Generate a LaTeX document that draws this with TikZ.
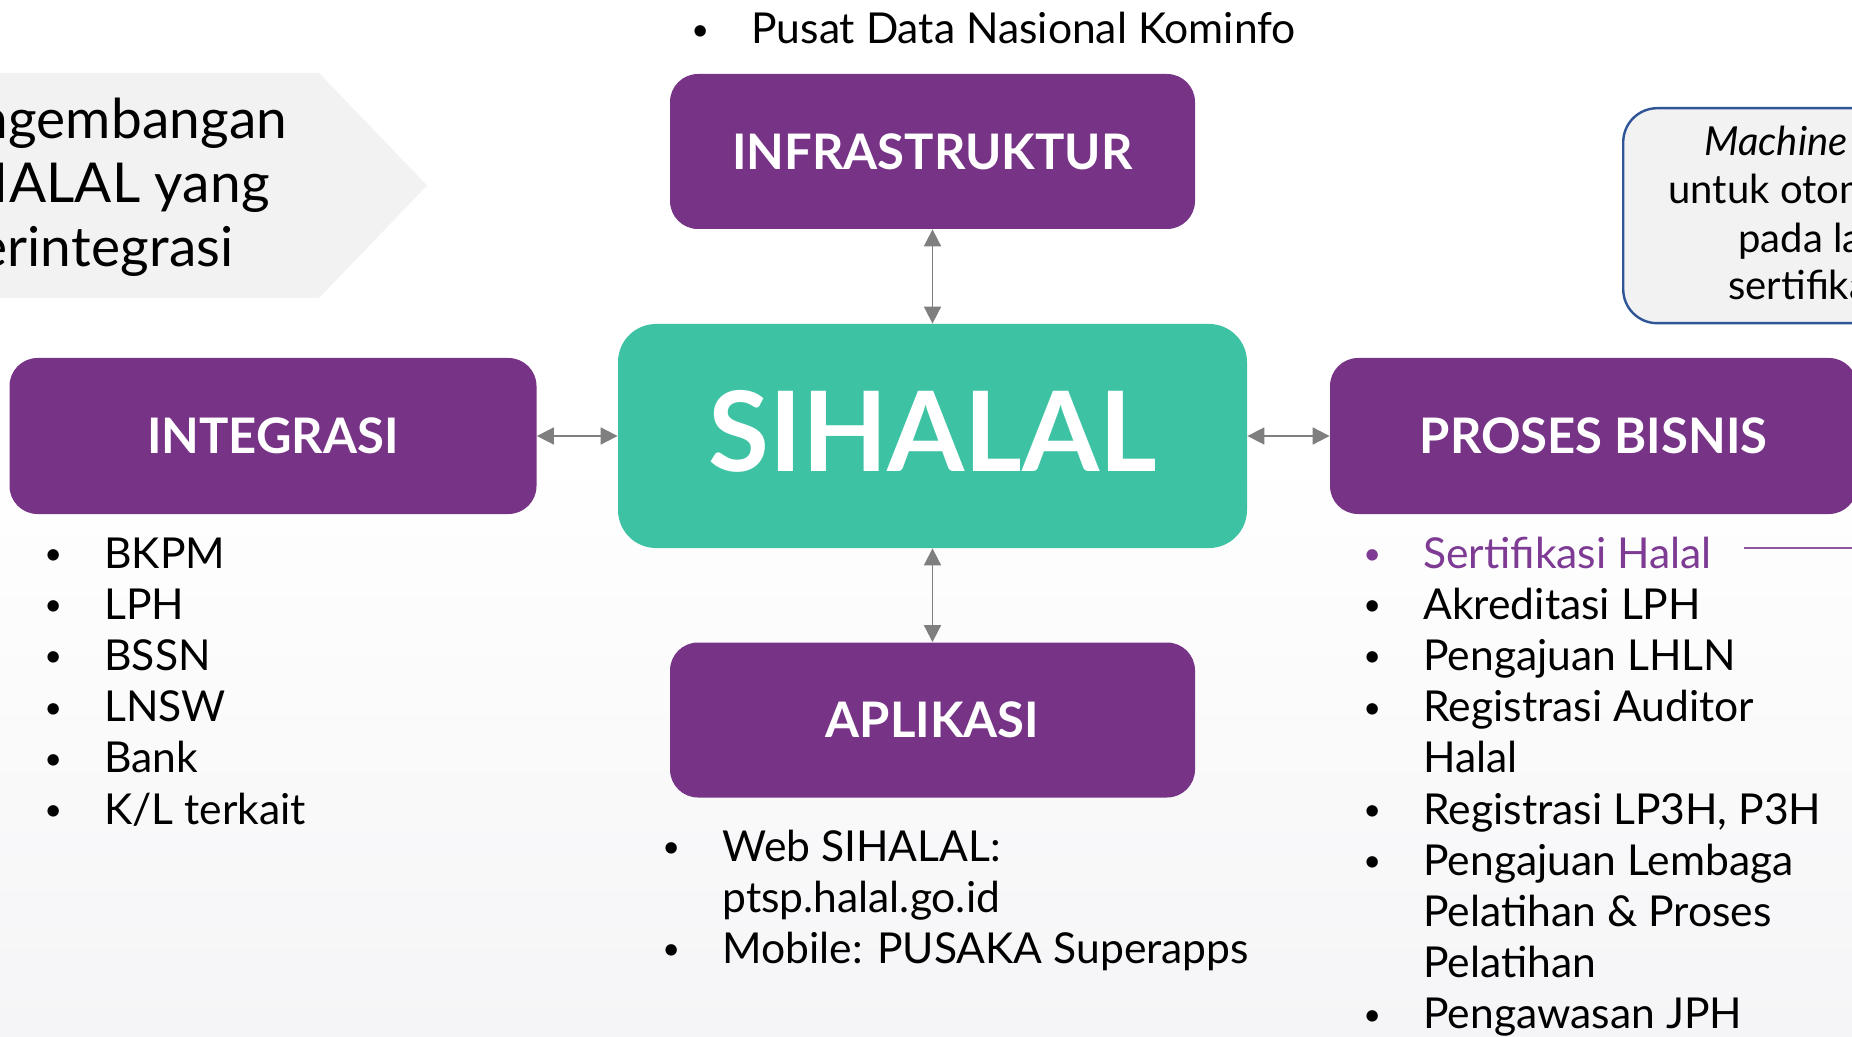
\documentclass[tikz,border=0pt]{standalone}
\usepackage{fontspec}
\setmainfont{Lato}
\usetikzlibrary{arrows.meta}
\definecolor{ungu}{HTML}{773386}
\definecolor{tosca}{HTML}{3DC3A3}
\definecolor{abu}{HTML}{F2F2F2}
\definecolor{panah}{HTML}{7F7F7F}
\definecolor{biru}{HTML}{2F5597}
\definecolor{ungumuda}{HTML}{7E3B93}
\definecolor{garisungu}{HTML}{8E56A0}
\definecolor{latar}{HTML}{F5F5F7}
\newcommand\bul{\hspace*{-1pt}\raisebox{1.8pt}{\scalebox{0.72}{•}}}
\begin{document}
\begin{tikzpicture}[x=0.5pt,y=-0.5pt,
  purplebox/.style={fill=ungu, rounded corners=14pt, minimum width=262.5pt, minimum height=77.5pt, inner sep=0pt, text=white, font=\bfseries\fontsize{24.5}{29}\selectfont},
  mainbox/.style={fill=tosca, rounded corners=19pt, minimum width=314.5pt, minimum height=112pt, inner sep=0pt},
  biarrow/.style={draw=panah, line width=0.9pt, {Triangle[length=8.5pt,width=8.5pt]}-{Triangle[length=8.5pt,width=8.5pt]}},
  listtext/.style={inner sep=0pt, anchor=base west, font=\fontsize{21.3}{25.6}\selectfont},
  bigtext/.style={inner sep=0pt, anchor=base east, font=\fontsize{27.5}{32}\selectfont\addfontfeature{LetterSpace=0.3}},
  notetext/.style={inner sep=0pt, anchor=base west, font=\fontsize{20}{24}\selectfont},
]
\useasboundingbox (0,0) rectangle (1852,1037);
\fill[white] (0,0) rectangle (1852,1037);
\shade[top color=white, bottom color=latar] (0,450) rectangle (1852,1037);

% title arrow shape
\fill[abu] (-20,73) -- (319,73) -- (427,185.5) -- (319,298) -- (-20,298) -- cycle;
\node[bigtext] (p1) at (288,139) {Pengembangan};
\node[bigtext] (p2) at (270,203) {SIHALAL yang};
\node[bigtext] (p3) at (234,267) {terintegrasi};

% note box
\node[draw=biru, line width=1.2pt, fill=abu, rounded corners=17pt, minimum width=189pt, minimum height=107.5pt, anchor=north west, inner sep=0pt] (mesin) at (1622,107) {};
\node[notetext] (m1) at (1704,156) {\itshape Machine learning};
\node[notetext] (m2) at (1668,204) {untuk otomatisasi};
\node[notetext] (m3) at (1738,253) {pada layanan};
\node[notetext] (m4) at (1728,300) {sertifikasi halal};

% boxes
\node[purplebox] (infra) at (932.5,151.5) {INFRASTRUKTUR};
\node[mainbox] (sihalal) at (932.5,436) {};
\node[text=white, font=\bfseries\fontsize{55.5}{62}\selectfont, inner sep=0pt] (sihalaltxt) at (932.5,431) {SIHALAL};
\node[purplebox, minimum width=263.5pt, minimum height=78pt] (integrasi) at (273,436) {INTEGRASI};
\node[purplebox, minimum width=263.5pt, minimum height=78pt] (proses) at (1593.5,436) {PROSES BISNIS};
\node[purplebox] (aplikasi) at (932.5,720) {APLIKASI};

% connectors
\draw[biarrow] (infra.south) -- (sihalal.north);
\draw[biarrow] (sihalal.south) -- (aplikasi.north);
\draw[biarrow] (integrasi.east) -- (sihalal.west);
\draw[biarrow] (sihalal.east) -- (proses.west);

% lists
\node[listtext] (atas) at (693,44) {\begin{tabular}[t]{@{}p{29pt}@{}l@{}}
\bul & Pusat Data Nasional Kominfo
\end{tabular}};

\node[listtext] (kiri) at (46,568) {\begin{tabular}[t]{@{}p{29pt}@{}l@{}}
\bul & BKPM\\
\bul & LPH\\
\bul & BSSN\\
\bul & LNSW\\
\bul & Bank\\
\bul & K/L terkait
\end{tabular}};

\node[listtext] (bawah) at (664,861) {\begin{tabular}[t]{@{}p{29pt}@{}l@{}}
\bul & Web SIHALAL:\\
 & ptsp.halal.go.id\\
\bul & Mobile: PUSAKA Superapps
\end{tabular}};

\node[listtext] (kanan) at (1365,568) {\begin{tabular}[t]{@{}p{29pt}@{}l@{}}
\textcolor{ungumuda}{\bul} & \textcolor{ungumuda}{Sertifikasi Halal}\\
\bul & Akreditasi LPH\\
\bul & Pengajuan LHLN\\
\bul & Registrasi Auditor\\
 & Halal\\
\bul & Registrasi LP3H, P3H\\
\bul & Pengajuan Lembaga\\
 & Pelatihan \& Proses\\
 & Pelatihan\\
\bul & Pengawasan JPH
\end{tabular}};

\coordinate (sertA) at (1744,548);
\coordinate (sertB) at (1900,548);
\draw[garisungu, line width=0.8pt] (sertA) -- (sertB);
\end{tikzpicture}
\end{document}
